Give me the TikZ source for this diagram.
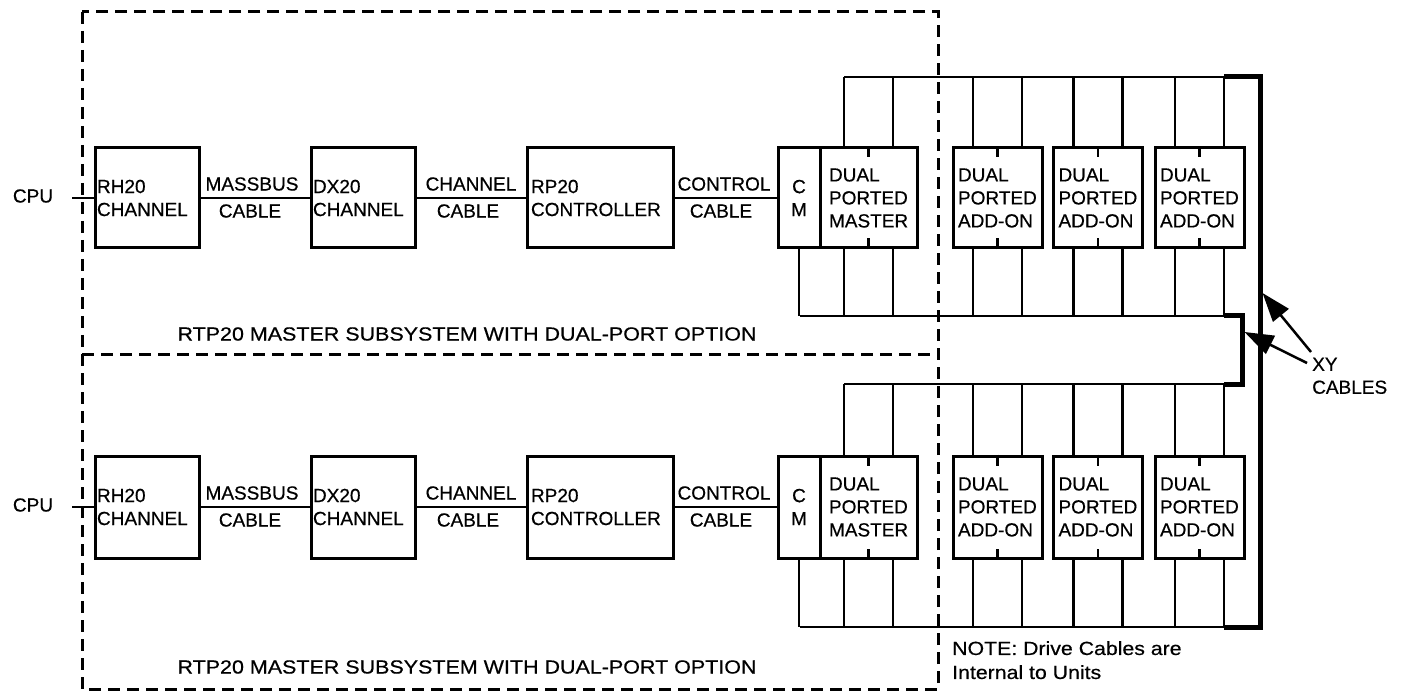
\documentclass[tikz,border=0pt]{standalone}
\usepackage{fontspec}
\setmainfont{Liberation Sans}[FakeBold=0.5]
\usepackage{graphicx}
\usetikzlibrary{arrows.meta,calc}
\begin{document}
\begin{tikzpicture}[x=1pt,y=-1pt,
  txt/.style={font=\fontsize{19}{23}\selectfont, inner sep=0pt},
  blk/.style={draw, line width=3pt, txt, align=left, inner ysep=0pt},
  conn/.style={line width=2.5pt},
  bus/.style={line width=2.5pt},
  xy/.style={line width=5pt, line join=miter},
  tick/.style={line width=2.5pt},
  dsh/.style={line width=3pt, dash pattern=on 12pt off 7pt},
  xyarrow/.style={line width=2.5pt, -{Triangle[length=29pt,width=20pt]}},
]
\useasboundingbox (0,0) rectangle (1405,692);

% dashed subsystem frames
\draw[dsh] (82,12) rectangle (938,689);
\draw[dsh] (82,355) -- (938,355);

\foreach \r/\y/\h/\tb/\bb in {1/198/100/77/316, 2/507/102/384/627} {
  % boxes
  \node[blk, minimum width=104, minimum height=\h, text width=100pt, inner xsep=2pt] (rh\r) at (147,\y) {RH20\\CHANNEL};
  \node[blk, minimum width=104, minimum height=\h, text width=100pt, inner xsep=2pt] (dx\r) at (363,\y) {DX20\\CHANNEL};
  \node[blk, minimum width=146, minimum height=\h, text width=138pt, inner xsep=4pt] (rp\r) at (600,\y) {RP20\\CONTROLLER};
  \node[blk, minimum width=42, minimum height=\h, text width=30pt, inner xsep=6pt, align=center] (cm\r) at (799,\y) {C\\M};
  \node[blk, minimum width=97, minimum height=\h, text width=79pt, inner xsep=9pt] (mas\r) at (868.5,\y) {DUAL\\PORTED\\MASTER};
  \node[blk, minimum width=89, minimum height=\h, text width=79pt, inner xsep=5pt] (ad1\r) at (997.5,\y) {DUAL\\PORTED\\ADD-ON};
  \node[blk, minimum width=89, minimum height=\h, text width=79pt, inner xsep=5pt] (ad2\r) at (1098,\y) {DUAL\\PORTED\\ADD-ON};
  \node[blk, minimum width=89, minimum height=\h, text width=79pt, inner xsep=5pt] (ad3\r) at (1199.5,\y) {DUAL\\PORTED\\ADD-ON};

  % CPU and cables
  \node[txt] (cpu\r) at (33,\y-2) {CPU};
  \coordinate (cin\r) at (72,\y);
  \draw[conn] (cin\r) -- (rh\r);
  \draw[conn] (rh\r) -- (dx\r);
  \draw[conn] (dx\r) -- (rp\r);
  \draw[conn] (rp\r) -- (cm\r);
  \node[txt] (mbA\r) at (252,\y-14) {MASSBUS};
  \node[txt] (mbB\r) at (250,\y+13) {CABLE};
  \node[txt] (chA\r) at (471,\y-14) {CHANNEL};
  \node[txt] (chB\r) at (468,\y+13) {CABLE};
  \node[txt] (coA\r) at (724,\y-14) {CONTROL};
  \node[txt] (coB\r) at (721,\y+13) {CABLE};

  % buses
  \coordinate (tbL\r) at (844,\tb);
  \coordinate (tbK\r) at (1224,\tb);
  \coordinate (bbL\r) at (800,\bb);
  \coordinate (bbK\r) at (1224,\bb);
  \draw[bus] (tbL\r) -- (tbK\r);
  \draw[bus] (bbL\r) -- (bbK\r);
  \draw[bus] (cm\r.south) -- (cm\r.south |- bbL\r);
  \foreach \n in {mas,ad1,ad2,ad3} {
    \draw[tick] (\n\r.north) -- ++(0,11);
    \draw[tick] (\n\r.south) -- ++(0,-11);
    \foreach \s in {-24.5,24.5} {
      \draw[bus] ($(\n\r.north)+(\s,0)$) coordinate (p) -- (p |- tbL\r);
      \draw[bus] ($(\n\r.south)+(\s,0)$) coordinate (q) -- (q |- bbL\r);
    }
  }
}

% XY cables
\coordinate (s1) at (1242,316);
\coordinate (s2) at (1242,384);
\coordinate (r1) at (1260,77);
\coordinate (r2) at (1260,627);
\draw[xy] (bbK1) -- (s1) -- (s2) -- (tbK2);
\draw[xy] (tbK1) -- (r1) -- (r2) -- (bbK2);

\node[txt, align=left, anchor=north west] (xylbl) at (1312,357.5) {XY\\CABLES};
\coordinate (t1) at (1311,352);
\coordinate (a1) at (1262.5,293);
\coordinate (t2) at (1307,363);
\coordinate (a2) at (1244.5,332);
\draw[xyarrow] (t1) -- (a1);
\draw[xyarrow] (t2) -- (a2);

% subsystem labels
\node[txt] (sub1) at (467,334) {\scalebox{1.13}[1]{RTP20 MASTER SUBSYSTEM WITH DUAL-PORT OPTION}};
\node[txt] (sub2) at (467,667) {\scalebox{1.13}[1]{RTP20 MASTER SUBSYSTEM WITH DUAL-PORT OPTION}};

% note
\node[txt, font=\fontsize{19}{24}\selectfont, anchor=north west, align=left] (note) at (952,641) {\scalebox{1.12}[1]{NOTE: Drive Cables are}\\\scalebox{1.12}[1]{Internal to Units}};
\end{tikzpicture}
\end{document}
